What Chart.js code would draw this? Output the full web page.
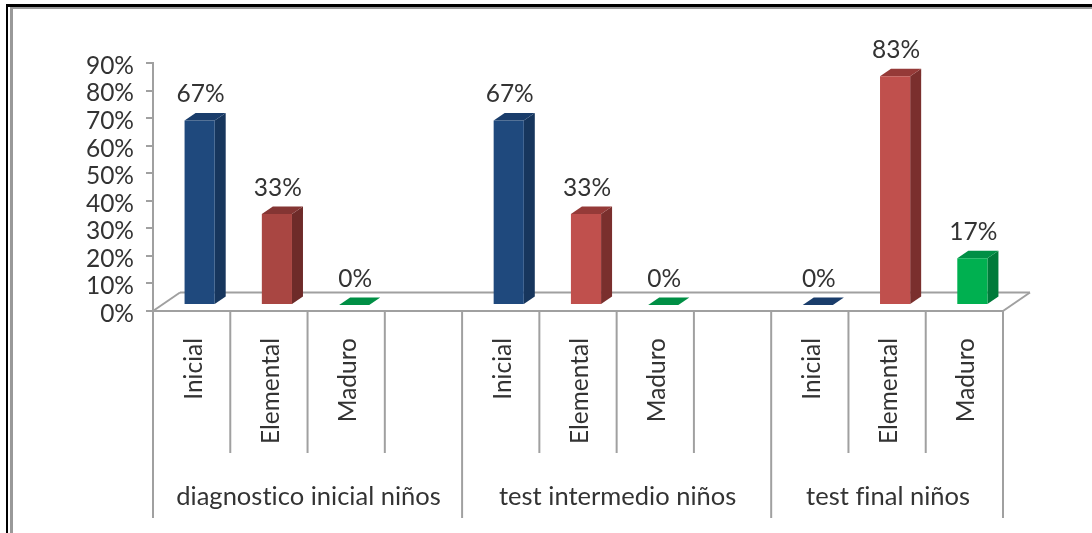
<!DOCTYPE html>
<html>
<head>
<meta charset="utf-8">
<style>
  html, body { margin: 0; padding: 0; background: #fff; overflow: hidden; }
  #wrap { position: relative; width: 1092px; height: 533px; }
  #vChart { position: absolute; left: 0; top: 0; }
  .b { position: absolute; }
</style>
<script src="https://cdn.jsdelivr.net/npm/chart.js@4"></script>
</head>
<body>
<div id="wrap">
  <canvas id="vChart" width="1092" height="533"></canvas>
  <!-- marco de la imagen -->
  <div class="b" style="left:6px;top:4px;width:1086px;height:3px;background:#000"></div>
  <div class="b" style="left:6px;top:4px;width:2px;height:529px;background:#000"></div>
  <div class="b" style="left:10px;top:7px;width:1082px;height:2px;background:#999"></div>
  <div class="b" style="left:10px;top:7px;width:3px;height:526px;background:#999"></div>
</div>
<script>
// Datos
const categorias = ['Inicial', 'Elemental', 'Maduro', '', 'Inicial', 'Elemental', 'Maduro', '', 'Inicial', 'Elemental', 'Maduro'];
const valores = [67, 33, 0, null, 67, 33, 0, null, 0, 83, 17];
const yMax = 90;
const grupos = ['diagnostico inicial niños', 'test intermedio niños', 'test final niños'];
const grupoInicio = [0, 4, 8];
const grupoFin = [3, 7, 10];

const frente = ['#1f497d', '#a94642', '#00a650', null, '#1f497d', '#c0504d', '#00a650', null, '#1f497d', '#c0504d', '#00b050'];
const lado = ['#17365d', '#6e2b29', '#007a3a', null, '#17365d', '#7a2f2d', '#007a3a', null, '#17365d', '#7a2f2d', '#007a3a'];
const tapa = ['#1a3d6b', '#843533', '#008f45', null, '#1a3d6b', '#953a38', '#008f45', null, '#1a3d6b', '#953a38', '#008f45'];

const GRIS = '#a0a0a0';
const TEXTO = '#333333';
const FUENTE = 'Lato, Carlito, sans-serif';

// Desplazamiento del suelo y profundidad de las barras
const SHIFT_X = 8, SHIFT_Y = -6;
const PROF_X = 11, PROF_Y = 7.5;

function poly(ctx, pts, color) {
  ctx.fillStyle = color;
  ctx.beginPath();
  pts.forEach((p, i) => i ? ctx.lineTo(p[0], p[1]) : ctx.moveTo(p[0], p[1]));
  ctx.closePath();
  ctx.fill();
}

function linea(ctx, x1, y1, x2, y2) {
  ctx.beginPath();
  ctx.moveTo(x1, y1);
  ctx.lineTo(x2, y2);
  ctx.stroke();
}

// Suelo 3D y lineas de las categorias
const suelo = {
  id: 'suelo',
  beforeDatasetsDraw(chart) {
    const { ctx, chartArea: a, scales: { x } } = chart;
    const bw = x.getPixelForValue(1) - x.getPixelForValue(0);
    ctx.save();
    ctx.strokeStyle = GRIS;
    ctx.lineWidth = 2;
    linea(ctx, a.left, a.bottom, a.left + 27, a.bottom - 18.5);
    linea(ctx, a.left + 27, a.bottom - 18.5, a.right + 27, a.bottom - 18.5);
    linea(ctx, a.right + 27, a.bottom - 18.5, a.right, a.bottom);
    // separadores de abajo
    for (let i = 0; i <= categorias.length; i++) {
      const px = x.getPixelForValue(0) - bw / 2 + bw * i;
      const largo = (i === 0 || i === 4 || i === 8 || i === categorias.length);
      linea(ctx, px, a.bottom, px, largo ? 518 : 453);
    }
    ctx.restore();
  }
};

// Caras laterales y tapa de cada barra, mismo desplazamiento que las barras
const barras3d = {
  id: 'barras3d',
  beforeDatasetDraw(chart) {
    const { ctx } = chart;
    ctx.save();
    ctx.translate(SHIFT_X, SHIFT_Y);
    chart.getDatasetMeta(0).data.forEach((b, i) => {
      if (valores[i] === null) return;
      const l = b.x - b.width / 2, r = b.x + b.width / 2;
      const t = b.y, base = b.base;
      if (valores[i] > 0) {
        poly(ctx, [[r, t], [r + PROF_X, t - PROF_Y], [r + PROF_X, base - PROF_Y], [r, base]], lado[i]);
      }
      poly(ctx, [[l, t], [l + PROF_X, t - PROF_Y], [r + PROF_X, t - PROF_Y], [r, t]], tapa[i]);
    });
  },
  afterDatasetDraw(chart) {
    chart.ctx.restore();
  }
};

// Etiquetas de valor y de grupo
const textos = {
  id: 'textos',
  afterDraw(chart) {
    const { ctx, scales: { x } } = chart;
    ctx.save();
    ctx.fillStyle = TEXTO;
    ctx.textAlign = 'center';
    ctx.textBaseline = 'middle';
    ctx.letterSpacing = '0.01px'; // sin ligaduras
    ctx.font = '24.5px ' + FUENTE;
    chart.getDatasetMeta(0).data.forEach((b, i) => {
      if (valores[i] === null) return;
      ctx.fillText(valores[i] + '%', b.x + SHIFT_X + 1, b.y + SHIFT_Y - 26);
    });
    ctx.font = '25.5px ' + FUENTE;
    grupos.forEach((g, i) => {
      const cx = (x.getPixelForValue(grupoInicio[i]) + x.getPixelForValue(grupoFin[i])) / 2;
      ctx.fillText(g, cx + 1, 497);
    });
    ctx.restore();
  }
};

new Chart(document.getElementById('vChart').getContext('2d'), {
  type: 'bar',
  data: {
    labels: categorias,
    datasets: [{
      label: 'Porcentaje',
      data: valores,
      backgroundColor: frente,
      barPercentage: 0.39,
      categoryPercentage: 1,
      minBarLength: 0
    }]
  },
  options: {
    responsive: false,
    animation: false,
    layout: { padding: { top: 63, right: 89, left: 0, bottom: 0 } },
    plugins: { legend: { display: false }, tooltip: { enabled: false } },
    scales: {
      x: {
        grid: { display: false },
        border: { color: GRIS, width: 2 },
        ticks: {
          autoSkip: false,
          minRotation: 90,
          maxRotation: 90,
          padding: 19,
          labelOffset: 2,
          color: TEXTO,
          font: { family: FUENTE, size: 24.5 }
        },
        afterFit(s) { s.height = 222; }
      },
      y: {
        min: 0,
        max: yMax,
        grid: { drawOnChartArea: false, color: GRIS, lineWidth: 2, tickLength: 7 },
        border: { color: GRIS, width: 2 },
        ticks: {
          autoSkip: false,
          stepSize: 10,
          padding: 12,
          labelOffset: 3,
          color: TEXTO,
          font: { family: FUENTE, size: 24.5 },
          callback: v => v + '%'
        },
        afterFit(s) { s.width = 153; }
      }
    }
  },
  plugins: [suelo, barras3d, textos]
});
</script>
</body>
</html>
